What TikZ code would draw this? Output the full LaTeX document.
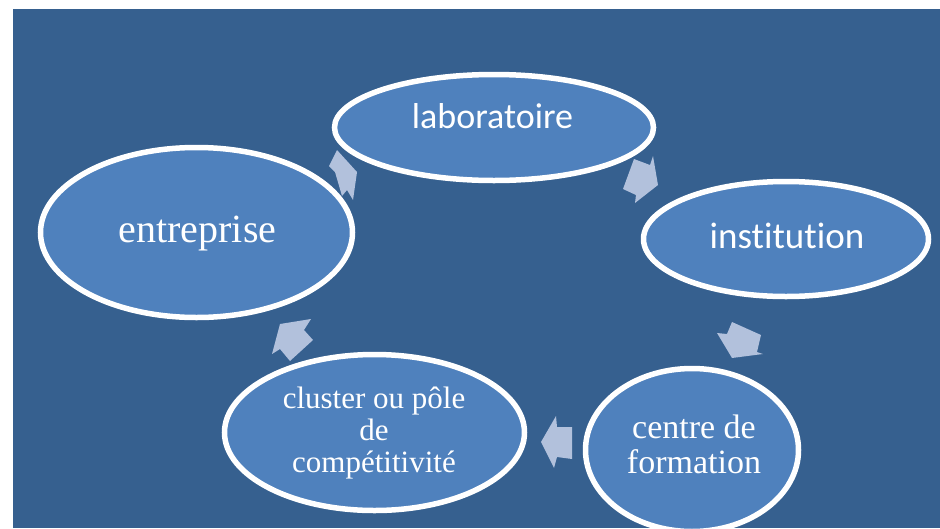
\documentclass[tikz,border=0pt]{standalone}
\usepackage{fontspec}
\setmainfont{Liberation Serif}
\newfontfamily\calib[Ligatures={NoCommon,NoRare,NoContextual}]{Carlito}
\usetikzlibrary{shapes.geometric}
\definecolor{bgblue}{RGB}{54,96,143}
\definecolor{ellblue}{RGB}{79,129,189}
\definecolor{arrowblue}{RGB}{178,193,220}
\begin{document}
\begin{tikzpicture}[x=1pt,y=-1pt,
  bubble/.style={ellipse, draw=white, line width=5.5pt, fill=ellblue, inner sep=0pt},
  cyclearrow/.style={fill=arrowblue, draw=none},
  lbl/.style={text=white, inner sep=0pt, anchor=base, align=center}]
\clip (0,0) rectangle (940,528);
\fill[white] (0,0) rectangle (940,528);
\fill[bgblue] (13,9) rectangle (940,528);
% cycle arrows (under the ellipses)
\fill[cyclearrow] (634,159) -- (650,165) -- (653,156) -- (658,185) -- (635,203) -- (636,195) -- (623,189) -- cycle;
\fill[cyclearrow] (732,322) -- (761,335) -- (757,352) -- (763,354) -- (732,358) -- (717,333) -- (727,334) -- cycle;
\fill[cyclearrow] (541,442) -- (556,416) -- (557,427) -- (572,427) -- (572,459) -- (557,457) -- (554,468) -- cycle;
\fill[cyclearrow] (280,324) -- (311,319) -- (304,330) -- (313,340) -- (290,361) -- (280,349) -- (272,354) -- cycle;
\fill[cyclearrow] (337,150) -- (357,172) -- (353,200) -- (347,190) -- (342,196) -- (335,172) -- (329,166) -- cycle;
% ellipses
\node[bubble, minimum width=319pt, minimum height=106pt] (lab) at (494,127.5) {};
\node[bubble, minimum width=285pt, minimum height=115pt] (inst) at (786,239) {};
\node[bubble, minimum width=213pt, minimum height=163pt] (cdf) at (692,450) {};
\node[bubble, minimum width=300pt, minimum height=156pt] (clu) at (374.5,432.5) {};
\node[bubble, minimum width=312pt, minimum height=170pt] (ent) at (196.5,232.5) {};
% texts
\node[lbl, font=\calib\fontsize{36}{43}\selectfont] (tlab) at (492.5,128) {laboratoire};
\node[lbl, font=\calib\fontsize{37}{44}\selectfont] (tinst) at (787,248) {institution};
\node[lbl, font=\fontsize{40}{48}\selectfont] (tent) at (197.5,242) {entreprise};
\node[lbl, font=\fontsize{31}{32}\selectfont] (tclu) at (374,472) {cluster ou pôle\\de\\compétitivité};
\node[lbl, font=\fontsize{34}{35}\selectfont] (tcdf) at (694,473) {centre de\\formation};
\end{tikzpicture}
\end{document}
